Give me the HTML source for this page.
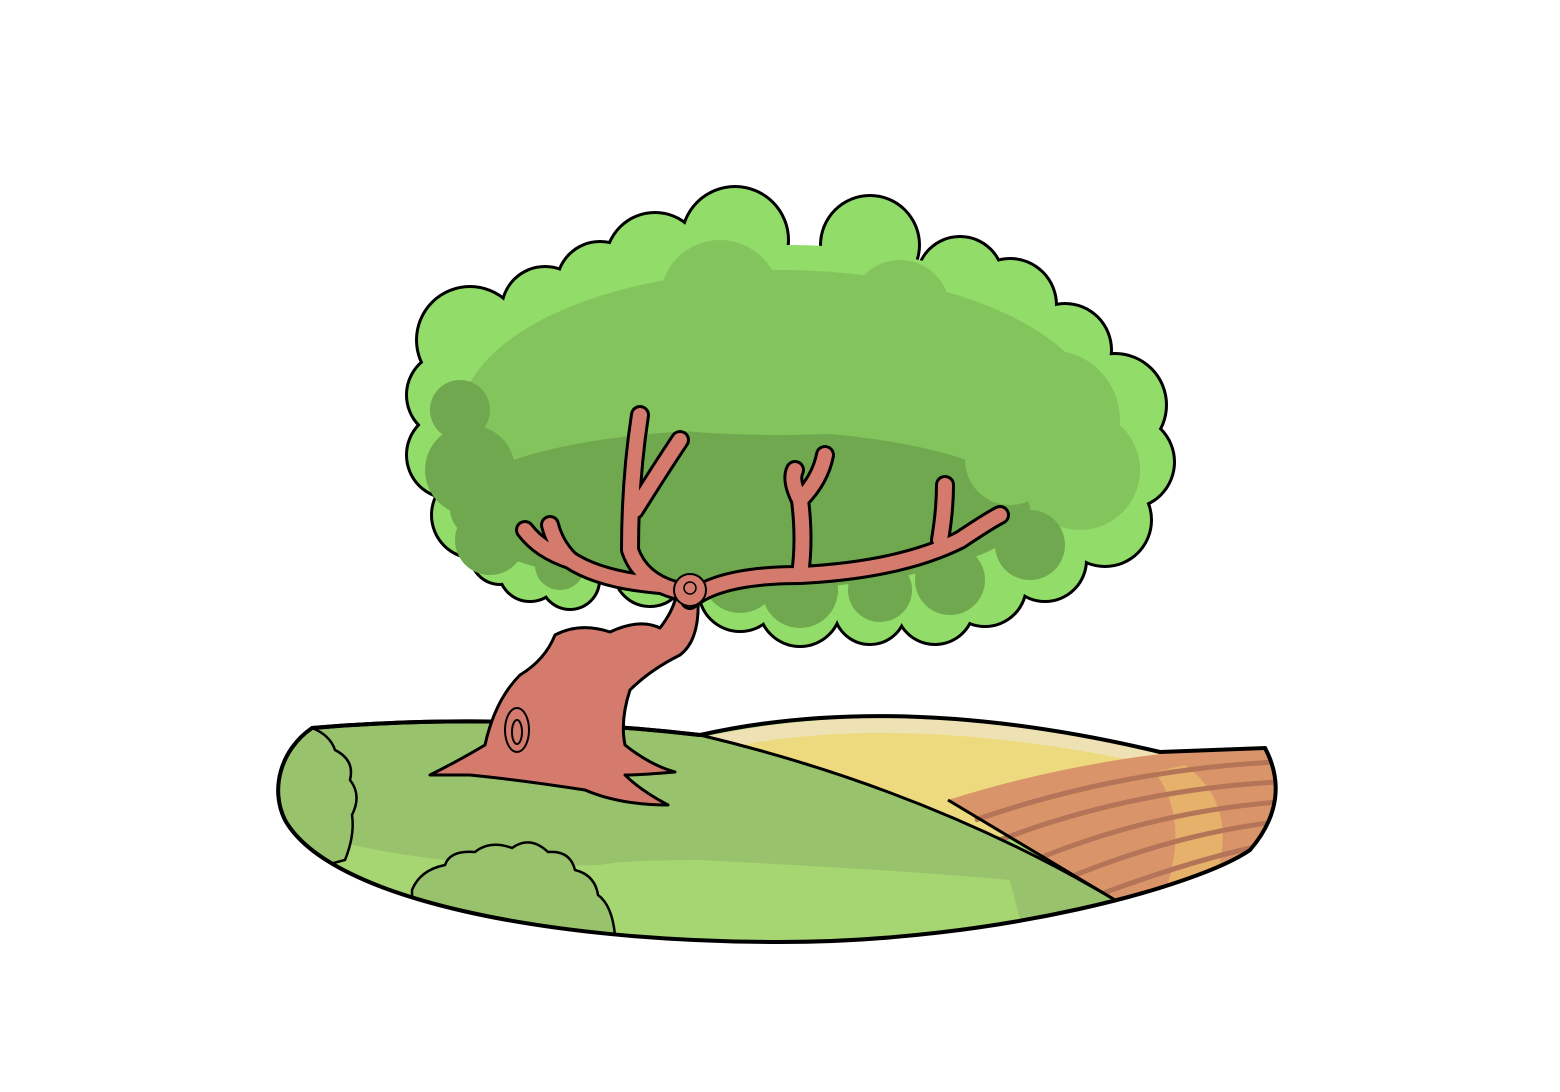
<!DOCTYPE html>
<html><head><meta charset="utf-8"><style>html,body{margin:0;padding:0;background:#fff}svg{display:block}</style></head>
<body>
<svg width="1560" height="1092" viewBox="0 0 1560 1092">
<defs>
<clipPath id="gclip"><path d="M312,728 Q500,712 700,735 Q900,690 1160,752 Q1210,750 1265,748 C1282,780 1280,815 1250,850 C1200,885 1000,942 780,942 C550,942 330,900 285,820 C270,790 280,750 312,728 Z"/></clipPath>
</defs>
<g clip-path="url(#gclip)">
<rect x="260" y="680" width="1040" height="280" fill="#A6D672"/>
<path d="M690,740 Q900,690 1170,752 L1190,820 L900,830 Z" fill="#EEE2B4"/>
<path d="M725,748 Q900,712 1140,762 Q1180,770 1200,790 L1150,830 L900,840 Z" fill="#EEDA7E"/>
<path d="M948,800 Q1100,752 1268,745 L1295,850 L1115,900 Z" fill="#D9946A"/>
<path d="M1185,765 Q1240,805 1215,880 L1165,892 Q1190,820 1155,772 Z" fill="#E9B86A" opacity="0.8"/>
<g fill="none" stroke="#B37458" stroke-width="5">
<path d="M975,820 Q1120,770 1275,762"/>
<path d="M1000,840 Q1130,790 1278,782"/>
<path d="M1030,862 Q1150,812 1278,802"/>
<path d="M1058,882 Q1170,835 1275,822"/>
<path d="M1085,900 Q1190,860 1265,845"/>
</g>
<path d="M948,800 L1115,900" stroke="#000" stroke-width="3" fill="none"/>
<path d="M260,725 Q500,710 700,735 Q930,790 1115,900 L1100,960 L260,960 Z" fill="#98C26C"/>
<path d="M300,830 Q420,870 600,865 Q620,860 700,860 Q900,870 1010,880 L1030,960 L260,960 Z" fill="#A6D672"/>
<path d="M700,735 Q930,790 1115,900" stroke="#000" stroke-width="3" fill="none"/>
<path d="M312,728 Q330,735 335,750 Q355,760 350,780 Q362,795 352,815 Q355,835 345,860 L270,880 L270,720 Z" fill="#98C26C" stroke="#000" stroke-width="2.5"/>
<path d="M412,890 Q420,870 445,865 Q450,850 475,852 Q490,840 512,848 Q530,835 548,852 Q570,850 575,870 Q595,875 598,895 Q612,905 615,935 L412,935 Z" fill="#98C26C" stroke="#000" stroke-width="2.5"/>
</g>
<path d="M312,728 Q500,712 700,735 Q900,690 1160,752 Q1210,750 1265,748 C1282,780 1280,815 1250,850 C1200,885 1000,942 780,942 C550,942 330,900 285,820 C270,790 280,750 312,728 Z" fill="none" stroke="#000" stroke-width="4"/>
<path d="M700,735 Q500,712 312,728" stroke="#000" stroke-width="4" fill="none"/>
<!-- trunk -->
<path d="M430,775 Q460,760 485,745 Q495,700 520,675 Q545,660 555,635 Q580,622 610,632 Q640,618 660,628 Q672,612 675,600 L698,598 Q700,640 680,655 Q650,670 630,690 Q620,720 625,745 Q650,765 675,772 Q640,775 625,775 Q640,790 668,805 Q620,805 585,790 Q520,780 470,775 Q450,775 430,775 Z" fill="#D47B6E" stroke="#000" stroke-width="3" stroke-linejoin="round"/>
<ellipse cx="517" cy="730" rx="12" ry="22" fill="none" stroke="#000" stroke-width="2"/>
<ellipse cx="517" cy="732" rx="5" ry="12" fill="none" stroke="#000" stroke-width="2"/>
<!-- canopy -->
<g>
<g fill="#92DC6A" stroke="#000" stroke-width="6">
<circle cx="735" cy="240" r="52"/><circle cx="655" cy="262" r="48"/><circle cx="870" cy="245" r="48"/><circle cx="960" cy="280" r="42"/><circle cx="600" cy="285" r="42"/><circle cx="545" cy="310" r="42"/><circle cx="470" cy="340" r="52"/><circle cx="450" cy="395" r="42"/><circle cx="450" cy="455" r="42"/><circle cx="475" cy="515" r="42"/><circle cx="500" cy="555" r="28"/><circle cx="1010" cy="305" r="45"/><circle cx="1065" cy="350" r="45"/><circle cx="1115" cy="405" r="50"/><circle cx="1128" cy="462" r="45"/><circle cx="1105" cy="520" r="45"/><circle cx="1045" cy="560" r="40"/><circle cx="985" cy="585" r="40"/><circle cx="935" cy="605" r="38"/><circle cx="870" cy="608" r="35"/><circle cx="800" cy="605" r="40"/><circle cx="740" cy="590" r="40"/><circle cx="530" cy="570" r="30"/><circle cx="570" cy="580" r="28"/><circle cx="650" cy="570" r="35"/>
</g>
<g fill="#92DC6A">
<circle cx="735" cy="240" r="52"/><circle cx="655" cy="262" r="48"/><circle cx="870" cy="245" r="48"/><circle cx="960" cy="280" r="42"/><circle cx="600" cy="285" r="42"/><circle cx="545" cy="310" r="42"/><circle cx="470" cy="340" r="52"/><circle cx="450" cy="395" r="42"/><circle cx="450" cy="455" r="42"/><circle cx="475" cy="515" r="42"/><circle cx="500" cy="555" r="28"/><circle cx="1010" cy="305" r="45"/><circle cx="1065" cy="350" r="45"/><circle cx="1115" cy="405" r="50"/><circle cx="1128" cy="462" r="45"/><circle cx="1105" cy="520" r="45"/><circle cx="1045" cy="560" r="40"/><circle cx="985" cy="585" r="40"/><circle cx="935" cy="605" r="38"/><circle cx="870" cy="608" r="35"/><circle cx="800" cy="605" r="40"/><circle cx="740" cy="590" r="40"/><circle cx="530" cy="570" r="30"/><circle cx="570" cy="580" r="28"/><circle cx="650" cy="570" r="35"/>
<ellipse cx="790" cy="420" rx="320" ry="175"/>
</g>
<g fill="#84C45C">
<ellipse cx="780" cy="420" rx="320" ry="150"/>
<circle cx="720" cy="300" r="60"/><circle cx="900" cy="310" r="50"/><circle cx="1050" cy="420" r="70"/><circle cx="1080" cy="470" r="60"/>
</g>
<g fill="#6FA84E">
<ellipse cx="740" cy="510" rx="290" ry="80"/>
<circle cx="470" cy="470" r="45"/><circle cx="460" cy="410" r="30"/><circle cx="490" cy="540" r="35"/><circle cx="800" cy="590" r="38"/><circle cx="740" cy="575" r="38"/><circle cx="880" cy="590" r="32"/><circle cx="950" cy="580" r="35"/><circle cx="1030" cy="545" r="35"/><circle cx="660" cy="560" r="30"/><circle cx="560" cy="565" r="25"/>
</g>
<g fill="#84C45C">
<ellipse cx="780" cy="370" rx="280" ry="65"/>
<circle cx="1010" cy="460" r="45"/>
</g>
</g>
<!-- branches -->
<g fill="none" stroke-linecap="round" stroke-linejoin="round">
<g stroke="#000" stroke-width="20">
<path d="M690,600 Q720,575 800,575 Q900,570 960,540 Q990,520 1000,515"/>
<path d="M940,540 Q945,510 945,485"/>
<path d="M800,575 Q805,540 800,500 Q790,480 795,470"/><path d="M800,500 Q820,480 825,455"/>
<path d="M675,590 Q640,580 630,550 Q630,480 640,415"/><path d="M635,510 Q660,470 680,440"/>
<path d="M660,585 Q600,580 570,560 Q540,550 525,530"/><path d="M570,560 Q555,545 550,525"/>
</g>
<g stroke="#D47B6E" stroke-width="14">
<path d="M690,600 Q720,575 800,575 Q900,570 960,540 Q990,520 1000,515"/>
<path d="M940,540 Q945,510 945,485"/>
<path d="M800,575 Q805,540 800,500 Q790,480 795,470"/><path d="M800,500 Q820,480 825,455"/>
<path d="M675,590 Q640,580 630,550 Q630,480 640,415"/><path d="M635,510 Q660,470 680,440"/>
<path d="M660,585 Q600,580 570,560 Q540,550 525,530"/><path d="M570,560 Q555,545 550,525"/>
</g>
<circle cx="690" cy="590" r="16" fill="#D47B6E" stroke="#000" stroke-width="2"/>
<circle cx="690" cy="588" r="6" stroke="#000" stroke-width="1.5"/>
</g>
</svg>
</body></html>
